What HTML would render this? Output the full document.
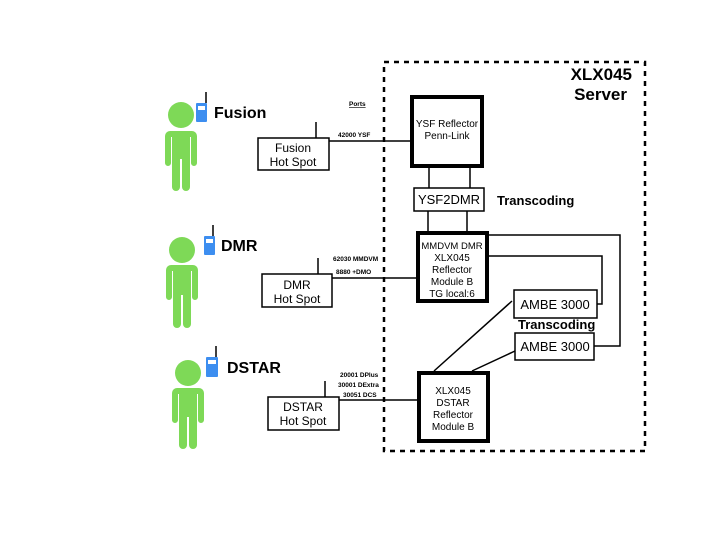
<!DOCTYPE html>
<html><head><style>body{margin:0;background:#fff}svg{display:block}</style></head><body>
<svg width="720" height="540" viewBox="0 0 720 540" font-family="Liberation Sans, sans-serif">
<rect x="384" y="62" width="261" height="389" fill="none" stroke="#000" stroke-width="2.5" stroke-dasharray="5,5"/>
<text x="632" y="80" font-size="17" font-weight="bold" text-anchor="end">XLX045</text>
<text x="627" y="100" font-size="17" font-weight="bold" text-anchor="end">Server</text>
<g stroke="#000" fill="none">
<line x1="429" y1="167" x2="429" y2="188" stroke-width="1.5"/>
<line x1="470" y1="167" x2="470" y2="188" stroke-width="1.5"/>
<line x1="428" y1="211" x2="428" y2="232" stroke-width="1.5"/>
<line x1="467" y1="211" x2="467" y2="232" stroke-width="1.5"/>
<polyline points="488,235 620,235 620,346 594,346" stroke-width="1.5"/>
<polyline points="488,256 602,256 602,304 597,304" stroke-width="1.5"/>
<line x1="434" y1="371" x2="512" y2="301" stroke-width="1.5"/>
<line x1="472" y1="371" x2="515" y2="351" stroke-width="1.5"/>
<line x1="329" y1="141" x2="410" y2="141" stroke-width="1.5"/>
<line x1="332" y1="278" x2="416" y2="278" stroke-width="1.5"/>
<line x1="339" y1="400" x2="417" y2="400" stroke-width="1.5"/>
<line x1="316" y1="122" x2="316" y2="138" stroke-width="1.5"/>
<line x1="318" y1="258" x2="318" y2="274" stroke-width="1.5"/>
<line x1="325" y1="381" x2="325" y2="397" stroke-width="1.5"/>
<rect x="412" y="97" width="70" height="69" stroke-width="4"/>
<rect x="414" y="188" width="70" height="23" stroke-width="1.5" fill="#fff"/>
<rect x="418" y="233" width="69" height="68" stroke-width="4" fill="#fff"/>
<rect x="514" y="290" width="83" height="28" stroke-width="1.5" fill="#fff"/>
<rect x="515" y="333" width="79" height="27" stroke-width="1.5" fill="#fff"/>
<rect x="419" y="373" width="69" height="68" stroke-width="4" fill="#fff"/>
<rect x="258" y="138" width="71" height="32" stroke-width="1.5" fill="#fff"/>
<rect x="262" y="274" width="70" height="33" stroke-width="1.5" fill="#fff"/>
<rect x="268" y="397" width="71" height="33" stroke-width="1.5" fill="#fff"/>
</g>
<g font-size="10" text-anchor="middle">
<text x="447" y="127">YSF Reflector</text><text x="447" y="139">Penn-Link</text>
<text x="449" y="204" font-size="13">YSF2DMR</text>
<text x="452" y="249" font-size="9.5">MMDVM DMR</text><text x="452" y="261">XLX045</text><text x="452" y="273">Reflector</text><text x="452" y="285">Module B</text><text x="452" y="297">TG local:6</text>
<text x="453" y="394">XLX045</text><text x="453" y="406">DSTAR</text><text x="453" y="418">Reflector</text><text x="453" y="430">Module B</text>
<text x="555" y="309" font-size="13">AMBE 3000</text>
<text x="555" y="351" font-size="13">AMBE 3000</text>
<text x="293" y="152" font-size="12">Fusion</text><text x="293" y="166" font-size="12">Hot Spot</text>
<text x="297" y="289" font-size="12">DMR</text><text x="297" y="303" font-size="12">Hot Spot</text>
<text x="303" y="411" font-size="12">DSTAR</text><text x="303" y="425" font-size="12">Hot Spot</text>
</g>
<g font-size="6.5" font-weight="bold">
<text x="349" y="106" text-decoration="underline">Ports</text>
<text x="338" y="137">42000 YSF</text>
<text x="333" y="261">62030 MMDVM</text>
<text x="336" y="274">8880 +DMO</text>
<text x="340" y="377">20001 DPlus</text>
<text x="338" y="387">30001 DExtra</text>
<text x="343" y="397">30051 DCS</text>
</g>
<text x="497" y="205" font-size="13" font-weight="bold">Transcoding</text>
<text x="518" y="329" font-size="13" font-weight="bold">Transcoding</text>
<g fill="#7ed957">
<circle cx="181" cy="115" r="13"/>
<path d="M170,131 h22 a5,5 0 0 1 5,5 v27 a3,3 0 0 1 -6,0 v-26 h-1 v50 a4,4 0 0 1 -8,0 v-28 h-2 v28 a4,4 0 0 1 -8,0 v-50 h-1 v26 a3,3 0 0 1 -6,0 v-27 a5,5 0 0 1 5,-5z"/>
<circle cx="182" cy="250" r="13"/>
<path d="M171,265 h22 a5,5 0 0 1 5,5 v27 a3,3 0 0 1 -6,0 v-26 h-1 v53 a4,4 0 0 1 -8,0 v-29 h-2 v29 a4,4 0 0 1 -8,0 v-53 h-1 v26 a3,3 0 0 1 -6,0 v-27 a5,5 0 0 1 5,-5z"/>
<circle cx="188" cy="373" r="13"/>
<path d="M177,388 h22 a5,5 0 0 1 5,5 v27 a3,3 0 0 1 -6,0 v-26 h-1 v51 a4,4 0 0 1 -8,0 v-28 h-2 v28 a4,4 0 0 1 -8,0 v-51 h-1 v26 a3,3 0 0 1 -6,0 v-27 a5,5 0 0 1 5,-5z"/>
</g>
<g stroke="#000" stroke-width="1.5"><line x1="206" y1="92" x2="206" y2="103"/><line x1="213" y1="225" x2="213" y2="236"/><line x1="216" y1="346" x2="216" y2="357"/></g>
<g fill="#3d8ef0">
<rect x="196" y="103" width="11" height="19" rx="1"/><rect x="204" y="236" width="11" height="19" rx="1"/><rect x="206" y="357" width="12" height="20" rx="1"/>
</g>
<g fill="#fff"><rect x="198" y="106" width="7" height="4"/><rect x="206" y="239" width="7" height="4"/><rect x="208" y="360" width="8" height="4"/></g>
<g font-size="16" font-weight="bold">
<text x="214" y="118">Fusion</text><text x="221" y="251">DMR</text><text x="227" y="373">DSTAR</text>
</g>
</svg>
</body></html>
